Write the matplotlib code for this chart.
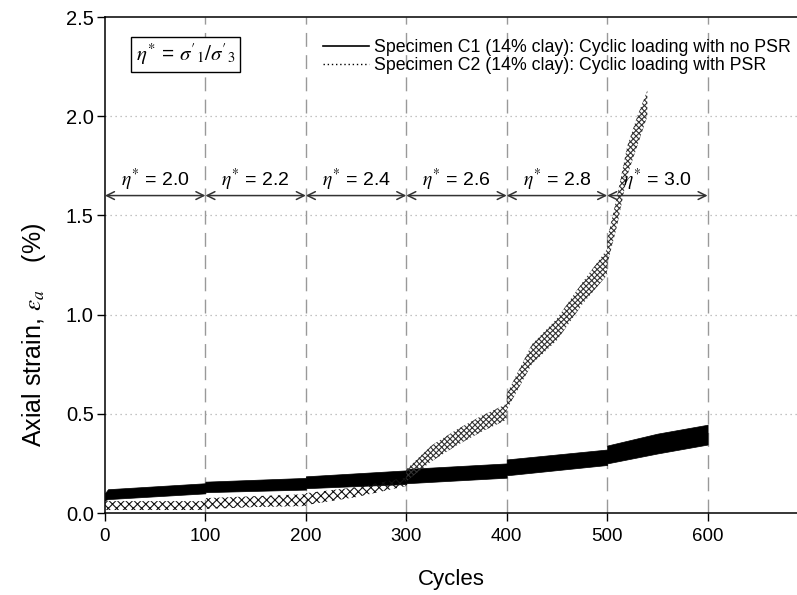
import matplotlib
matplotlib.use('Agg')
import matplotlib.pyplot as plt
from matplotlib.lines import Line2D
import numpy as np

plt.rcParams['font.family'] = ['Liberation Sans', 'DejaVu Sans']
plt.rcParams['mathtext.fontset'] = 'stix'
plt.rcParams['hatch.linewidth'] = 0.8

# specimen C1 (no PSR): envelope of axial strain per cycle
c1_cycles = [0, 3, 100, 100, 200, 200, 300, 300, 400, 400, 500, 500, 550, 600]
c1_upper = [0.10, 0.12, 0.150, 0.158, 0.177, 0.185, 0.215, 0.222, 0.25, 0.27, 0.32, 0.34, 0.40, 0.445]
c1_lower = [0.065, 0.07, 0.099, 0.105, 0.118, 0.125, 0.146, 0.150, 0.178, 0.19, 0.242, 0.25, 0.30, 0.345]

# specimen C2 (with PSR)
c2_cycles = [0, 100, 100, 150, 200, 200, 250, 300, 300, 325, 350, 375, 400, 400,
             425, 450, 475, 500, 500, 510, 520, 530, 540]
c2_upper = [0.06, 0.06, 0.075, 0.085, 0.095, 0.10, 0.13, 0.18, 0.22, 0.34, 0.42, 0.49, 0.55, 0.60,
            0.85, 0.98, 1.16, 1.33, 1.38, 1.60, 1.85, 2.00, 2.13]
c2_lower = [0.015, 0.015, 0.02, 0.03, 0.035, 0.04, 0.08, 0.136, 0.16, 0.26, 0.34, 0.41, 0.47, 0.52,
            0.75, 0.87, 1.05, 1.20, 1.25, 1.45, 1.70, 1.85, 2.00]

stage_bounds = [0, 100, 200, 300, 400, 500, 600]
stage_labels = ['2.0', '2.2', '2.4', '2.6', '2.8', '3.0']

fig = plt.figure(figsize=(7.97, 5.95), dpi=100)
ax = fig.add_axes([0.1317, 0.1378, 0.8683, 0.8336])

ax.set_xlim(0, 689)
ax.set_ylim(0, 2.5)

for y in [0.5, 1.0, 1.5, 2.0]:
    ax.axhline(y, color='#b0b0b0', lw=0.9, ls=(0, (1, 3)), zorder=0)
for x in stage_bounds[1:]:
    ax.axvline(x, color='#999999', lw=1.0, ls=(0, (10, 6)), zorder=0)

ax.fill_between(c1_cycles, c1_lower, c1_upper, color='black', lw=0.5, zorder=2)

# C2: crossing loops while strain is small, dense dotted band once it runs away
c2x = np.array(c2_cycles)
low_part = c2x <= 300
low_part[8] = False
ax.fill_between(c2x[low_part], np.array(c2_lower)[low_part], np.array(c2_upper)[low_part],
                facecolor='none', edgecolor='#111111', hatch='xxxx', lw=0, zorder=3)
high_part = c2x >= 300
high_part[7] = False
ax.fill_between(c2x[high_part], np.array(c2_lower)[high_part], np.array(c2_upper)[high_part],
                facecolor='none', edgecolor='#333333', hatch='xxxxxx', lw=0, zorder=3)

# stress-ratio stages
for i, lab in enumerate(stage_labels):
    x0, x1 = stage_bounds[i], stage_bounds[i + 1]
    ax.annotate('', xy=(x1, 1.6), xytext=(x0, 1.6),
                arrowprops=dict(arrowstyle='<->', color='#333333', lw=1.1,
                                shrinkA=0, shrinkB=0, mutation_scale=14))
    ax.text((x0 + x1) / 2, 1.615, r'$\eta^{*}$' + ' = ' + lab, ha='center', va='bottom',
            fontsize=14)

ax.text(80.5, 2.31, r"$\eta^{*}$ = $\sigma'_{1}/\sigma'_{3}$", ha='center', va='center',
        fontsize=15, bbox=dict(boxstyle='square,pad=0.22', fc='white', ec='black', lw=1))

handles = [Line2D([], [], color='black', lw=1.2),
           Line2D([], [], color='black', lw=1.0, ls=(0, (1, 2)))]
ax.legend(handles, ['Specimen C1 (14% clay): Cyclic loading with no PSR',
                    'Specimen C2 (14% clay): Cyclic loading with PSR'],
          loc='upper left', bbox_to_anchor=(0.3045, 0.969), frameon=False, fontsize=12.75,
          handlelength=2.6, handletextpad=0.3, labelspacing=0.05, borderaxespad=0)

ax.set_xticks(range(0, 601, 100))
ax.set_yticks(np.arange(0, 2.51, 0.5))
ax.set_yticklabels(['0.0', '0.5', '1.0', '1.5', '2.0', '2.5'])
ax.tick_params(direction='out', length=6, width=1, colors='black')
ax.tick_params(axis='x', labelsize=13.5, pad=5)
ax.tick_params(axis='y', labelsize=14.5, pad=2)
ax.spines['right'].set_visible(False)
for s in ['left', 'bottom', 'top']:
    ax.spines[s].set_linewidth(1.1)

ax.set_xlabel('Cycles', fontsize=16, labelpad=17)
ax.set_ylabel(r'Axial strain, $\varepsilon_a$    (%)', fontsize=18)
ax.yaxis.set_label_coords(-0.082, 0.36)

fig.savefig('out.png', dpi=100)
